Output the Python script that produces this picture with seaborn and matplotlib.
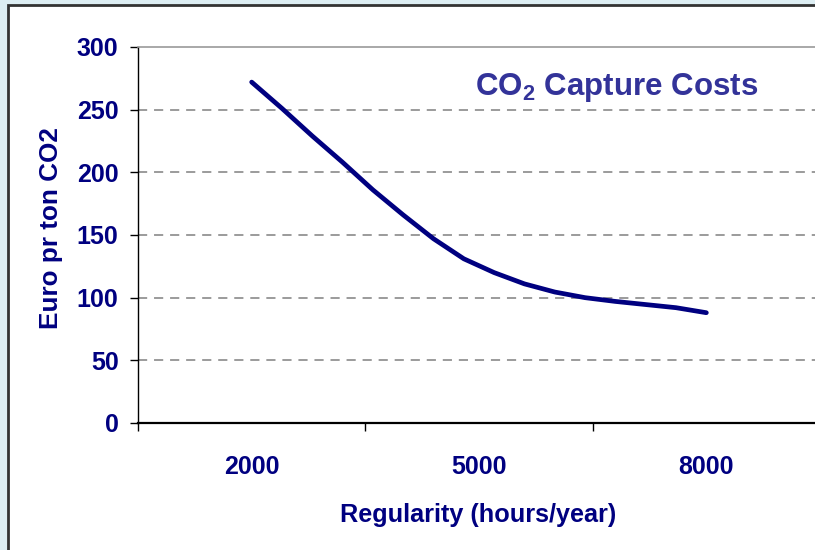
import matplotlib
matplotlib.use("Agg")
import matplotlib.pyplot as plt
import seaborn as sns
import pandas as pd
from matplotlib.patches import Rectangle

# regularity (hours/year) and capture cost (euro per ton CO2)
hours = [2000, 2400, 2800, 3200, 3600, 4000, 4400, 4800,
         5200, 5600, 6000, 6400, 6800, 7200, 7600, 8000]
cost = [272, 251, 229, 208, 186, 166, 147, 131,
        120, 111, 104.5, 100, 97, 94.5, 92, 88]
xlabels = [2000, 5000, 8000]
yticks = [0, 50, 100, 150, 200, 250, 300]

df = pd.DataFrame({'hours': hours, 'cost': cost})

sns.set_style('white')
plt.rcParams['font.family'] = ['Liberation Sans', 'DejaVu Sans']
plt.rcParams['mathtext.fontset'] = 'custom'
plt.rcParams['mathtext.rm'] = 'Liberation Sans:bold'
plt.rcParams['mathtext.it'] = 'Liberation Sans:bold'
plt.rcParams['mathtext.bf'] = 'Liberation Sans:bold'

navy = '#000080'
fig = plt.figure(figsize=(8.15, 5.5), dpi=100)
fig.patch.set_facecolor('#DDEEF3')

# white chart area with dark border, running off the right/bottom edge
fig.patches.append(Rectangle((8 / 815, -0.05), 1.2, 1.05 - 5 / 550,
                             transform=fig.transFigure, facecolor='white',
                             edgecolor='#333333', linewidth=2, clip_on=False,
                             zorder=-10))

ax = fig.add_axes([138 / 815, 1 - 423 / 550, (820 - 138) / 815, (423 - 47) / 550])
ax.set_facecolor('white')

sns.lineplot(data=df, x='hours', y='cost', ax=ax, color=navy, linewidth=3.4,
             solid_capstyle='round')

ax.set_xlim(500, 9500)
ax.set_ylim(0, 300)

ax.set_yticks(yticks)
ax.set_yticklabels([str(v) for v in yticks])
ax.set_xticks(xlabels)
ax.set_xticklabels([str(v) for v in xlabels])
ax.set_xticks([500, 3500, 6500, 9500], minor=True)

ax.tick_params(axis='y', which='major', direction='out', length=6, width=1,
               color='black', pad=8, labelsize=18, labelcolor=navy, left=True)
ax.tick_params(axis='x', which='major', length=0, pad=23, labelsize=18,
               labelcolor=navy)
ax.tick_params(axis='x', which='minor', direction='out', length=6, width=1,
               color='black', bottom=True)
for lab in ax.get_xticklabels() + ax.get_yticklabels():
    lab.set_fontweight('bold')

for v in yticks[1:-1]:
    ax.axhline(v, color='#808080', linewidth=1.1, linestyle=(0, (6, 4.5)), zorder=0)

for side in ['left', 'bottom']:
    ax.spines[side].set_color('black')
ax.spines['left'].set_linewidth(1.0)
ax.spines['bottom'].set_linewidth(1.6)
ax.spines['top'].set_color('#999999')
ax.spines['top'].set_linewidth(1.2)
ax.spines['right'].set_visible(False)

ax.set_xlabel('Regularity (hours/year)', fontsize=18.2, fontweight='bold',
              color=navy)
ax.set_ylabel('Euro pr ton CO2', fontsize=18.8, fontweight='bold',
              color=navy)
ax.xaxis.set_label_coords((478 - 138) / (820 - 138), -(503 - 423) / (423 - 47),
                          transform=ax.transAxes)
ax.xaxis.label.set_verticalalignment('top')
ax.yaxis.set_label_coords(-(138 - 39) / (820 - 138), (423 - 228) / (423 - 47),
                          transform=ax.transAxes)
ax.yaxis.label.set_verticalalignment('top')

ax.text(475 / 815, 1 - 95 / 550, r'CO$_2$ Capture Costs', transform=fig.transFigure,
        fontsize=22.5, fontweight='bold', color='#333399', ha='left', va='baseline')

fig.savefig('out.png', dpi=100, facecolor=fig.get_facecolor())
